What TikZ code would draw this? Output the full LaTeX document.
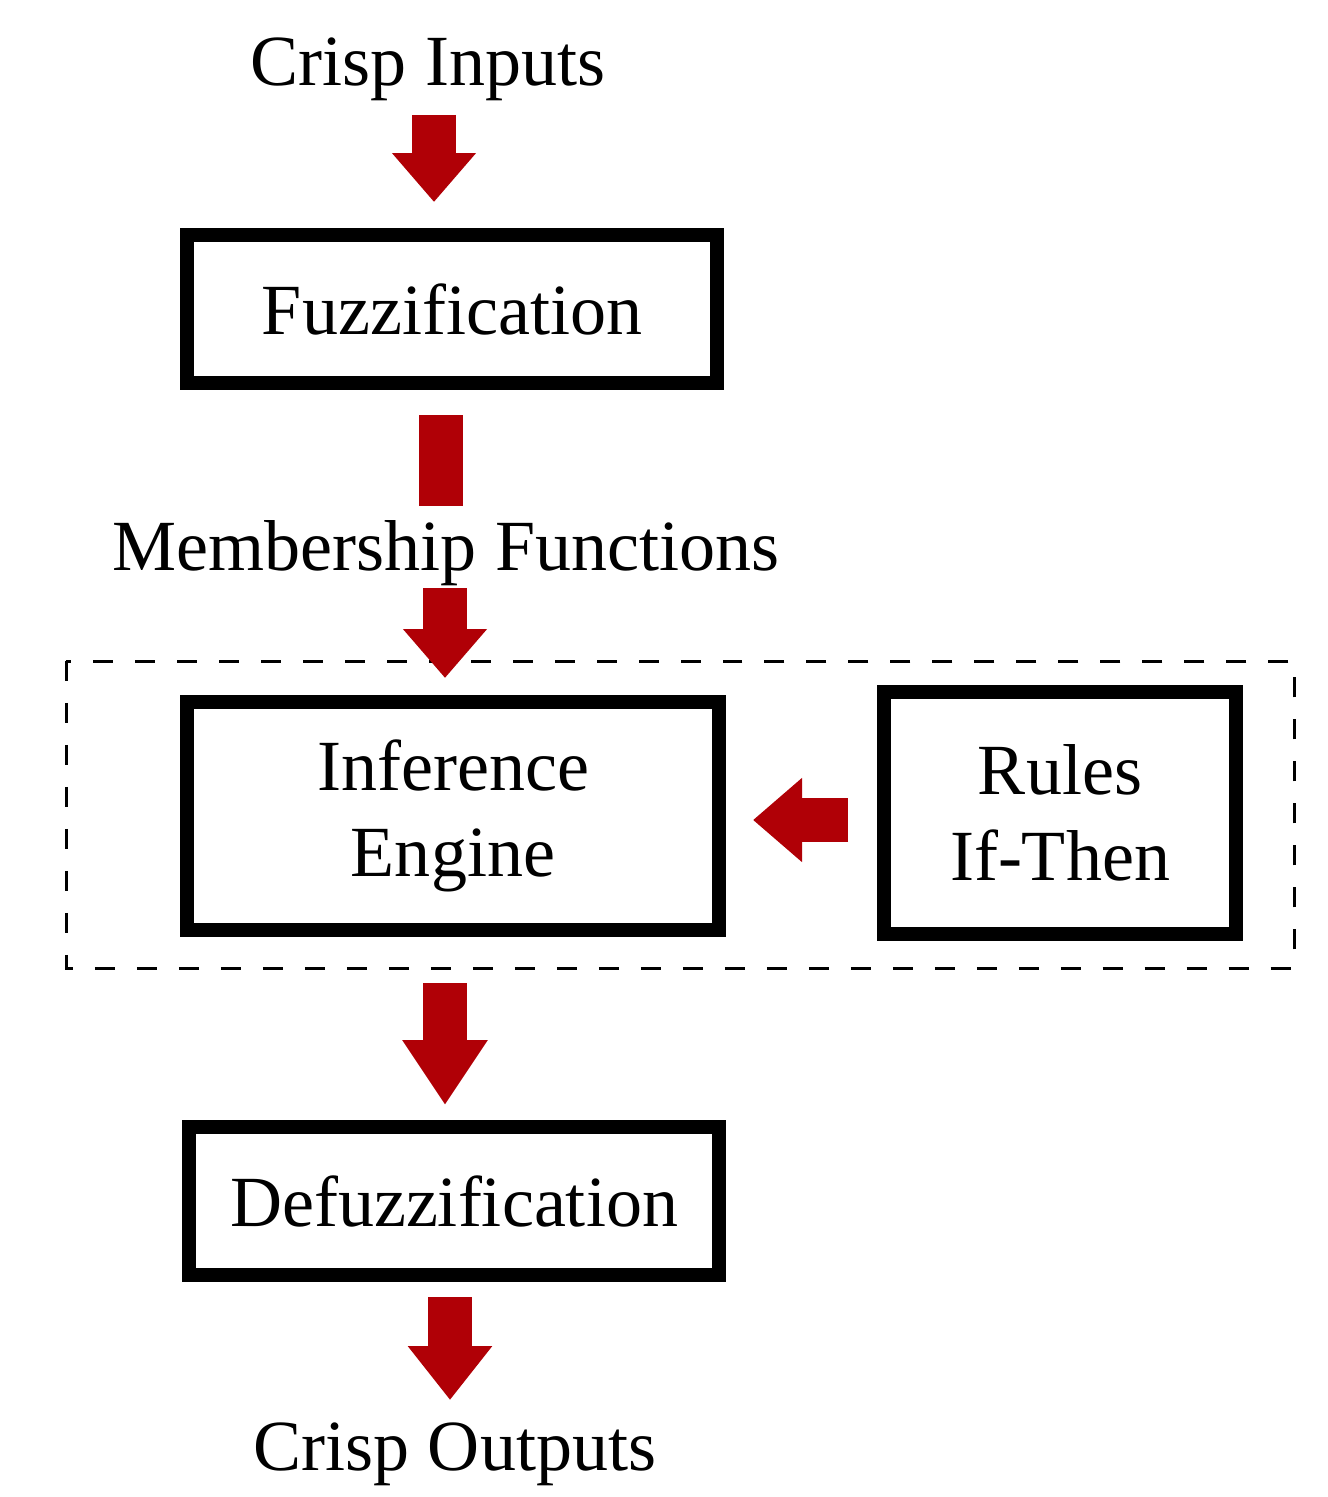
\documentclass[tikz,border=0pt]{standalone}
\usepackage{fontspec}
\setmainfont{Liberation Serif}
\usetikzlibrary{arrows.meta}
\definecolor{arrowred}{RGB}{176,0,6}
\tikzset{
  bigtext/.style={font=\fontsize{41}{49}\selectfont},
  stagebox/.style={draw=black,line width=0.28cm,rectangle,align=center,bigtext},
  blockarrow/.style={arrowred,line width=0.88cm,-{Triangle[length=#1,width=1.62cm]}},
  blockarrow/.default=0.98cm,
  blockbar/.style={arrowred,line width=0.88cm},
  dashbox/.style={black,line width=0.06cm,dash pattern=on 0.4cm off 0.44cm}
}
\begin{document}
\begin{tikzpicture}[x=0.02cm,y=-0.02cm]
\useasboundingbox (0,0) rectangle (1328,1497);
% Texts outside the boxes
\node[bigtext,anchor=base] (crispin) at (428,86) {Crisp Inputs};
\node[bigtext,anchor=base] (member) at (446,570) {Membership Functions};
\node[bigtext,anchor=base] (crispout) at (455,1470) {Crisp Outputs};
% Boxes
\node[stagebox,minimum width=10.6cm,minimum height=2.96cm] (fuzz) at (452,309) {Fuzzification};
\node[stagebox,minimum width=10.64cm,minimum height=4.56cm] (infer) at (453,816) {Inference\\Engine};
\node[stagebox,minimum width=7.06cm,minimum height=4.86cm] (rules) at (1060,813) {Rules\\If-Then};
\node[stagebox,minimum width=10.6cm,minimum height=2.96cm] (defuzz) at (454,1201) {Defuzzification};
% Dashed frame round inference and rules
\draw[dashbox] (66,661) rectangle (1294,968);
% Arrow ends
\coordinate (a1s) at (434,115);
\coordinate (a1e) at (434,202);
\coordinate (a2s) at (441,415);
\coordinate (a2e) at (441,506);
\coordinate (a3s) at (445,588);
\coordinate (a3e) at (445,678);
\coordinate (a4s) at (445,983);
\coordinate (a4e) at (445,1105);
\coordinate (a5s) at (450,1297);
\coordinate (a5e) at (450,1400);
\coordinate (a6s) at (848,820);
\coordinate (a6e) at (753,820);
% Arrows
\draw[blockarrow] (a1s) -- (a1e);
\draw[blockbar] (a2s) -- (a2e);
\draw[blockarrow] (a3s) -- (a3e);
\draw[blockarrow=1.3cm] (a4s) -- (a4e);
\draw[blockarrow=1.08cm] (a5s) -- (a5e);
\draw[blockarrow] (a6s) -- (a6e);
\end{tikzpicture}
\end{document}
